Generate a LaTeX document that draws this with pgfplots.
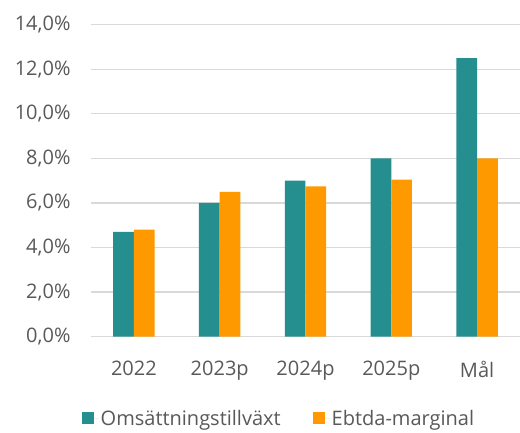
\documentclass[border=0pt]{standalone}
\usepackage{pgfplots}
\pgfplotsset{compat=1.18}
\usepackage{fontspec}
\setmainfont{Open Sans}
\definecolor{teal1}{RGB}{37,143,143}
\definecolor{orange1}{RGB}{255,153,0}
\definecolor{txt}{RGB}{89,89,89}
\definecolor{grid1}{RGB}{217,217,217}
\begin{document}
\begin{tikzpicture}
\path[use as bounding box] (-91pt,-95.3pt) rectangle (429pt,336.7pt);
\begin{axis}[
  at={(0,0)}, anchor=south west,
  scale only axis, width=429pt, height=312pt,
  ybar=0pt, bar width=20.7pt,
  xmin=-0.5, xmax=4.5, ymin=0, ymax=14,
  xtick=data, xticklabels={2022,2023p,2024p,2025p,Mål},
  ytick={0,2,...,14},
  /pgf/number format/assume math mode=true,
  yticklabel={\pgfmathprintnumber[fixed,fixed zerofill,precision=1,use comma]{\tick}\%},
  axis line style={draw=none},
  major tick length=0pt,
  ymajorgrids, grid style={grid1, line width=1.3pt},
  tick label style={font=\fontsize{20}{24}\selectfont, text=txt},
  yticklabel style={xshift=-17pt},
  xticklabel style={yshift=-21pt},
  legend style={at={(0.438,-0.262)}, anchor=center, draw=none, legend columns=2,
    font=\fontsize{20}{24}\selectfont, text=txt,
    /tikz/every even column/.append style={column sep=30pt}},
  legend image code/.code={\fill[#1] (0pt,-6pt) rectangle (12pt,6pt); \path (0pt,0pt) -- (17pt,0pt);},
]
\addplot[fill=teal1, draw=none] coordinates {(0,4.7) (1,6.0) (2,7.0) (3,8.0) (4,12.5)};
\addplot[fill=orange1, draw=none] coordinates {(0,4.8) (1,6.5) (2,6.75) (3,7.05) (4,8.0)};
\legend{Omsättningstillväxt, Ebtda-marginal}
\end{axis}
\end{tikzpicture}
\end{document}
